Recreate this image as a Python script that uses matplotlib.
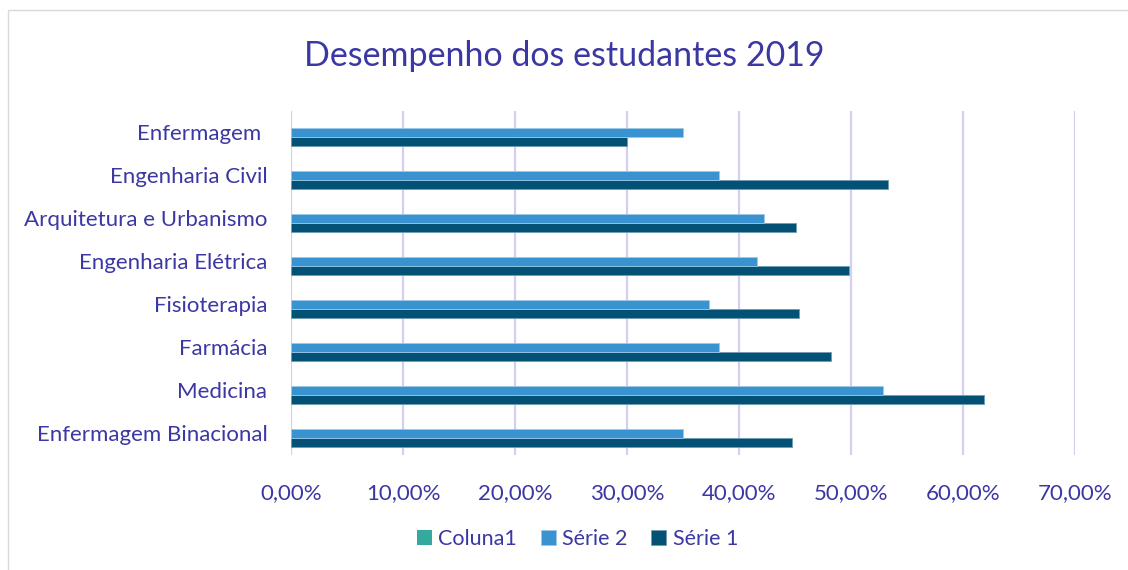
import numpy as np
import matplotlib.pyplot as plt
from matplotlib.ticker import FuncFormatter
from matplotlib.patches import Rectangle

cursos = ['Enfermagem Binacional', 'Medicina', 'Farmácia', 'Fisioterapia',
          'Engenharia Elétrica', 'Arquitetura e Urbanismo', 'Engenharia Civil',
          'Enfermagem ']
serie1 = [44.7, 61.9, 48.2, 45.4, 49.8, 45.1, 53.3, 30.0]
serie2 = [35.0, 52.9, 38.2, 37.3, 41.6, 42.2, 38.2, 35.0]
coluna1 = [0, 0, 0, 0, 0, 0, 0, 0]

txt = '#3b37a3'
c_col1 = '#33a99f'
c_s2 = '#3893d0'
c_s1 = '#035174'
grid_c = '#d3cff3'

plt.rcParams['font.family'] = ['Lato', 'DejaVu Sans']

fig = plt.figure(figsize=(11.28, 5.7), dpi=100)
ax = fig.add_axes([0.258, 0.2018, 0.695, 0.6035])

y = np.arange(len(cursos))
h = 0.21
ax.barh(y - h, serie1, height=h, color=c_s1, edgecolor='#6f9db5', linewidth=0.6, label='Série 1', zorder=3)
ax.barh(y, serie2, height=h, color=c_s2, edgecolor='#9cc9e8', linewidth=0.6, label='Série 2', zorder=3)
ax.barh(y + h, coluna1, height=h, color=c_col1, label='Coluna1', zorder=3)

ax.set_xlim(0, 70)
ax.set_ylim(-0.5, len(cursos) - 0.5)
ax.set_xticks(np.arange(0, 71, 10))
ax.xaxis.set_major_formatter(FuncFormatter(lambda v, p: f'{v:.2f}%'.replace('.', ',')))
ax.set_yticks(y)
ax.set_yticklabels(cursos)
ax.grid(axis='x', color=grid_c, linewidth=1.6, zorder=0)
for s in ax.spines.values():
    s.set_visible(False)
ax.tick_params(length=0, labelcolor=txt, labelsize=16)
ax.tick_params(axis='x', pad=20)
ax.tick_params(axis='y', pad=17)

fig.text(0.5, 0.902, 'Desempenho dos estudantes 2019', ha='center', va='center',
         fontsize=24.5, color=txt)

handles, labels = ax.get_legend_handles_labels()
order = [2, 1, 0]
fig.legend([handles[i] for i in order], [labels[i] for i in order],
           loc='center', bbox_to_anchor=(0.512, 0.054), ncol=3, frameon=False,
           fontsize=15.5, labelcolor=txt, handlelength=0.7, handleheight=0.7,
           handletextpad=0.3, columnspacing=1.1)

fig.patches.append(Rectangle((0.007, -0.01), 1.0, 0.993, transform=fig.transFigure,
                             fill=False, edgecolor='#d9d9d9', linewidth=1))

fig.savefig('out.png', dpi=100)
